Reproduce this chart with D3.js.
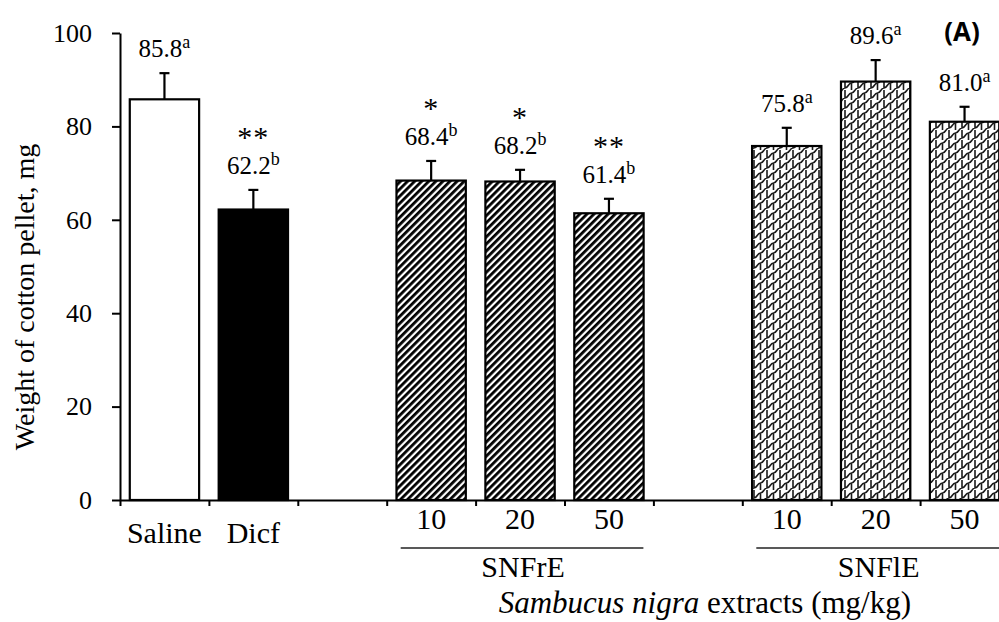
<!DOCTYPE html>
<html>
<head>
<meta charset="utf-8">
<script src="https://cdn.jsdelivr.net/npm/d3@7/dist/d3.min.js"></script>
<style>
  html, body { margin: 0; padding: 0; background: #fff; }
  svg { display: block; }
  text { font-family: "Liberation Serif", "Times New Roman", serif; fill: #000; }
</style>
</head>
<body>
<svg id="chart" width="999" height="622"></svg>
<script>
// ---- data ----
const categories = ["Saline", "Dicf", "", "10", "20", "50", "", "10", "20", "50"];
const groups     = ["Saline", "Dicf", null, "SNFrE", "SNFrE", "SNFrE", null, "SNFlE", "SNFlE", "SNFlE"];
const means      = [85.8, 62.2, null, 68.4, 68.2, 61.4, null, 75.8, 89.6, 81.0];
const sds        = [5.6, 4.2, null, 4.2, 2.5, 3.1, null, 3.9, 4.6, 3.2];
const letters    = ["a", "b", "", "b", "b", "b", "", "a", "a", "a"];
const stars      = ["", "**", "", "*", "*", "**", "", "", "", ""];
const yTicks     = [0, 20, 40, 60, 80, 100];
const extractGroups = ["SNFrE", "SNFlE"];
const yLabel = "Weight of cotton pellet, mg";
const panelLabel = "(A)";

// ---- layout ----
const svg = d3.select("#chart");
const mLeft = 120, mRight = 1009, mTop = 33, mBottom = 500;
const pad = 0.22;

const x = d3.scaleBand()
  .domain(d3.range(categories.length))
  .range([mLeft, mRight])
  .paddingInner(pad)
  .paddingOuter(pad / 2);
const y = d3.scaleLinear().domain([0, 100]).range([mBottom, mTop]);
const xb = d3.scaleLinear().domain([0, categories.length]).range([mLeft, mRight]);

// ---- patterns ----
const defs = svg.append("defs");
const stripe = defs.append("pattern")
  .attr("id", "stripe").attr("patternUnits", "userSpaceOnUse")
  .attr("width", 5).attr("height", 5)
  .attr("patternTransform", "rotate(45)");
stripe.append("rect").attr("width", 5).attr("height", 5).attr("fill", "#fff");
stripe.append("line").attr("x1", 1.4).attr("y1", 0).attr("x2", 1.4).attr("y2", 5)
  .attr("stroke", "#000").attr("stroke-width", 2.8);

const wave = defs.append("pattern")
  .attr("id", "wave").attr("patternUnits", "userSpaceOnUse")
  .attr("width", 13).attr("height", 10);
wave.append("rect").attr("width", 13).attr("height", 10).attr("fill", "#fff");
wave.append("path")
  .attr("d", "M0,8 C3.5,8 3,3 6.5,3 C10,3 9.5,-2 13,-2 M0,18 C3.5,18 3,13 6.5,13 C10,13 9.5,8 13,8 M6.5,3 L6.5,13 M0,-2 L0,8 M13,-2 L13,8")
  .attr("fill", "none").attr("stroke", "#1a1a1a").attr("stroke-width", 1.6);

function fillOf(i) {
  const g = groups[i];
  if (g === "Saline") return "#fff";
  if (g === "Dicf") return "#000";
  if (g === "SNFrE") return "url(#stripe)";
  return "url(#wave)";
}

const idx = d3.range(categories.length).filter(i => means[i] != null);

// ---- bars ----
svg.append("g").selectAll("rect").data(idx).join("rect")
  .attr("x", i => x(i))
  .attr("y", i => y(means[i]))
  .attr("width", x.bandwidth())
  .attr("height", i => y(0) - y(means[i]))
  .attr("fill", i => fillOf(i))
  .attr("stroke", "#000").attr("stroke-width", 2.2);

// ---- error bars ----
const eb = svg.append("g").attr("stroke", "#000").attr("stroke-width", 2.2);
eb.selectAll("line.v").data(idx).join("line").attr("class", "v")
  .attr("x1", i => x(i) + x.bandwidth() / 2).attr("x2", i => x(i) + x.bandwidth() / 2)
  .attr("y1", i => y(means[i])).attr("y2", i => y(means[i] + sds[i]));
eb.selectAll("line.c").data(idx).join("line").attr("class", "c")
  .attr("x1", i => x(i) + x.bandwidth() / 2 - 5).attr("x2", i => x(i) + x.bandwidth() / 2 + 5)
  .attr("y1", i => y(means[i] + sds[i])).attr("y2", i => y(means[i] + sds[i]));

// ---- value labels ----
const lab = svg.append("g");
idx.forEach(i => {
  const cx = x(i) + x.bandwidth() / 2;
  const by = y(means[i] + sds[i]) - 16;
  const t = lab.append("text").attr("x", cx).attr("y", by)
    .attr("text-anchor", "middle").attr("font-size", 25);
  t.append("tspan").text(means[i].toFixed(1));
  t.append("tspan").attr("font-size", 18).attr("dy", -9).text(letters[i]);
  if (stars[i]) {
    lab.append("text").attr("x", cx).attr("y", by - 27)
      .attr("text-anchor", "middle").attr("font-size", 30)
      .attr("letter-spacing", 1).text(stars[i]);
  }
});

// ---- y axis ----
const yAxis = svg.append("g").attr("transform", `translate(${mLeft},0)`)
  .call(d3.axisLeft(y).tickValues(yTicks).tickSize(8).tickPadding(20).tickSizeOuter(0));
yAxis.attr("font-family", null);
yAxis.select(".domain").attr("stroke-width", 2);
yAxis.selectAll(".tick line").attr("stroke-width", 2);
yAxis.selectAll(".tick text").attr("font-size", 26).attr("fill", "#000");

// ---- x axis ----
const xAxis = svg.append("g").attr("transform", `translate(0,${mBottom})`)
  .call(d3.axisBottom(xb).tickValues(d3.range(categories.length + 1)).tickFormat("").tickSize(6).tickSizeOuter(0));
xAxis.select(".domain").attr("stroke-width", 2);
xAxis.selectAll(".tick line").attr("stroke-width", 2);

// category labels
svg.append("g").selectAll("text").data(d3.range(categories.length)).join("text")
  .attr("x", i => x(i) + x.bandwidth() / 2)
  .attr("y", i => (groups[i] === "Saline" || groups[i] === "Dicf") ? 543 : 529)
  .attr("text-anchor", "middle").attr("font-size", 30)
  .text(i => categories[i]);

// group lines and labels
extractGroups.forEach(g => {
  const ids = d3.range(categories.length).filter(i => groups[i] === g);
  const x0 = xb(d3.min(ids)), x1 = xb(d3.max(ids) + 1);
  svg.append("line").attr("x1", x0 + 14).attr("x2", x1 - 10)
    .attr("y1", 548).attr("y2", 548).attr("stroke", "#222").attr("stroke-width", 1.6);
  svg.append("text").attr("x", (x0 + x1) / 2 + 3).attr("y", 577)
    .attr("text-anchor", "middle").attr("font-size", 30).text(g);
});

// overall x title
const ext0 = xb(d3.min(d3.range(categories.length).filter(i => groups[i] === "SNFrE")));
const ext1 = xb(categories.length);
const xt = svg.append("text").attr("x", (ext0 + ext1) / 2 + 7).attr("y", 613)
  .attr("text-anchor", "middle").attr("font-size", 31);
xt.append("tspan").attr("font-style", "italic").text("Sambucus nigra");
xt.append("tspan").text(" extracts (mg/kg)");

// y label
svg.append("text").attr("transform", "translate(34,297) rotate(-90)")
  .attr("text-anchor", "middle").attr("font-size", 28).text(yLabel);

// panel label
svg.append("text").attr("x", 962).attr("y", 41).attr("text-anchor", "middle")
  .attr("font-size", 26).attr("font-weight", "bold")
  .style("font-family", "'Open Sans', 'Noto Sans', sans-serif").text(panelLabel);
</script>
</body>
</html>
